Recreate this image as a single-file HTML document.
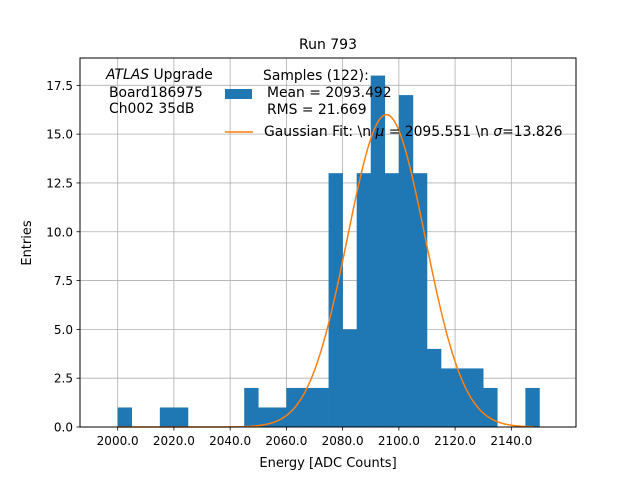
<!DOCTYPE html>
<html><head><meta charset="utf-8">
<style>
body{margin:0;background:#fff;}
svg{display:block;font-family:"DejaVu Sans","Liberation Sans",sans-serif;}
</style></head>
<body>
<svg id="chart" width="640" height="480">
<rect width="640" height="480" fill="#fff"/>
<g id="grid"></g>
<g id="bars"></g>
<path id="fit" fill="none" stroke="#ff7f0e" stroke-width="1.5"/>
<rect x="80" y="58" width="496" height="369" fill="none" stroke="#000" stroke-width="1"/>
<g id="xticks"></g>
<g id="yticks"></g>
<text x="328" y="49" font-size="14" text-anchor="middle">Run 793</text>
<text x="328" y="467" font-size="13" text-anchor="middle">Energy [ADC Counts]</text>
<text transform="translate(31,243) rotate(-90)" font-size="13" text-anchor="middle">Entries</text>
<g font-size="13.9">
<text x="106" y="79"><tspan font-style="italic">ATLAS</tspan> Upgrade</text>
<text x="109" y="97">Board186975</text>
<text x="109" y="113">Ch002 35dB</text>
</g>
<g font-size="13.9">
<text x="263" y="80">Samples (122):</text>
<rect x="225" y="89" width="27" height="10" fill="#1f77b4"/>
<text x="267" y="97">Mean = 2093.492</text>
<text x="267" y="114">RMS = 21.669</text>
<line x1="225" y1="132" x2="253" y2="132" stroke="#ff7f0e" stroke-width="1.5"/>
<text x="264" y="136">Gaussian Fit: \n <tspan font-style="italic">μ</tspan> = 2095.551 \n <tspan font-style="italic">σ</tspan>=13.826</text>
</g>
</svg>
<script>
const binStarts=[2000,2005,2010,2015,2020,2025,2030,2035,2040,2045,2050,2055,2060,2065,2070,2075,2080,2085,2090,2095,2100,2105,2110,2115,2120,2125,2130,2135,2140,2145];
const counts=[1,0,0,1,1,0,0,0,0,2,1,1,2,2,2,13,5,13,18,13,17,13,4,3,3,3,2,0,0,2];
const binWidth=5;
const xTicks=[2000,2020,2040,2060,2080,2100,2120,2140];
const yTicks=[0,2.5,5,7.5,10,12.5,15,17.5];
const fitAmp=[16];
const fitMu=[2095.551];
const fitSigma=[13.826];
const fitRange=[2000,2148];

const NS="http://www.w3.org/2000/svg";
const X0=80,X1=576,Y0=427,Y1=58;
const xmin=1986.6,xmax=2163.0,ymin=0,ymax=18.9;
function sx(v){return X0+(v-xmin)/(xmax-xmin)*(X1-X0);}
function sy(v){return Y0-(v-ymin)/(ymax-ymin)*(Y0-Y1);}
function mk(tag,attrs,parent){const e=document.createElementNS(NS,tag);for(const k in attrs)e.setAttribute(k,attrs[k]);parent.appendChild(e);return e;}
const grid=document.getElementById('grid'),bars=document.getElementById('bars'),xt=document.getElementById('xticks'),yt=document.getElementById('yticks');
xTicks.forEach(t=>{const x=sx(t);
 const g=mk('line',{x1:x,x2:x,y1:Y1,y2:Y0,stroke:'#b0b0b0','stroke-width':0.8},grid);
 
 
 const tk=mk('line',{x1:x,x2:x,y1:Y0,y2:Y0+3.5,stroke:'#000','stroke-width':0.8},xt);
 
 
 const lb=mk('text',{x:x,y:Y0+18,'font-size':12,'text-anchor':'middle'},xt);lb.textContent=t.toFixed(1);
 
 
});
yTicks.forEach(t=>{const y=sy(t);
 const g=mk('line',{x1:X0,x2:X1,y1:y,y2:y,stroke:'#b0b0b0','stroke-width':0.8},grid);
 
 
 const tk=mk('line',{x1:X0-3.5,x2:X0,y1:y,y2:y,stroke:'#000','stroke-width':0.8},yt);
 
 
 const lb=mk('text',{x:X0-7,y:y+4.5,'font-size':12,'text-anchor':'end'},yt);lb.textContent=t.toFixed(1);
 
 
});
binStarts.forEach((b,i)=>{if(!counts[i])return;
 const x=sx(b),w=sx(b+binWidth)-x,y=sy(counts[i]);
 const r=mk('rect',{x:x,y:y,width:w+0.3,height:Y0-y,fill:'#1f77b4'},bars);
 
 
});
let d='';
for(let i=0;i<=300;i++){const v=fitRange[0]+(fitRange[1]-fitRange[0])*i/300;
 const f=fitAmp[0]*Math.exp(-0.5*Math.pow((v-fitMu[0])/fitSigma[0],2));
 d+=(i?'L':'M')+sx(v).toFixed(2)+','+sy(f).toFixed(2);}
document.getElementById('fit').setAttribute('d',d);
</script>
</body></html>
